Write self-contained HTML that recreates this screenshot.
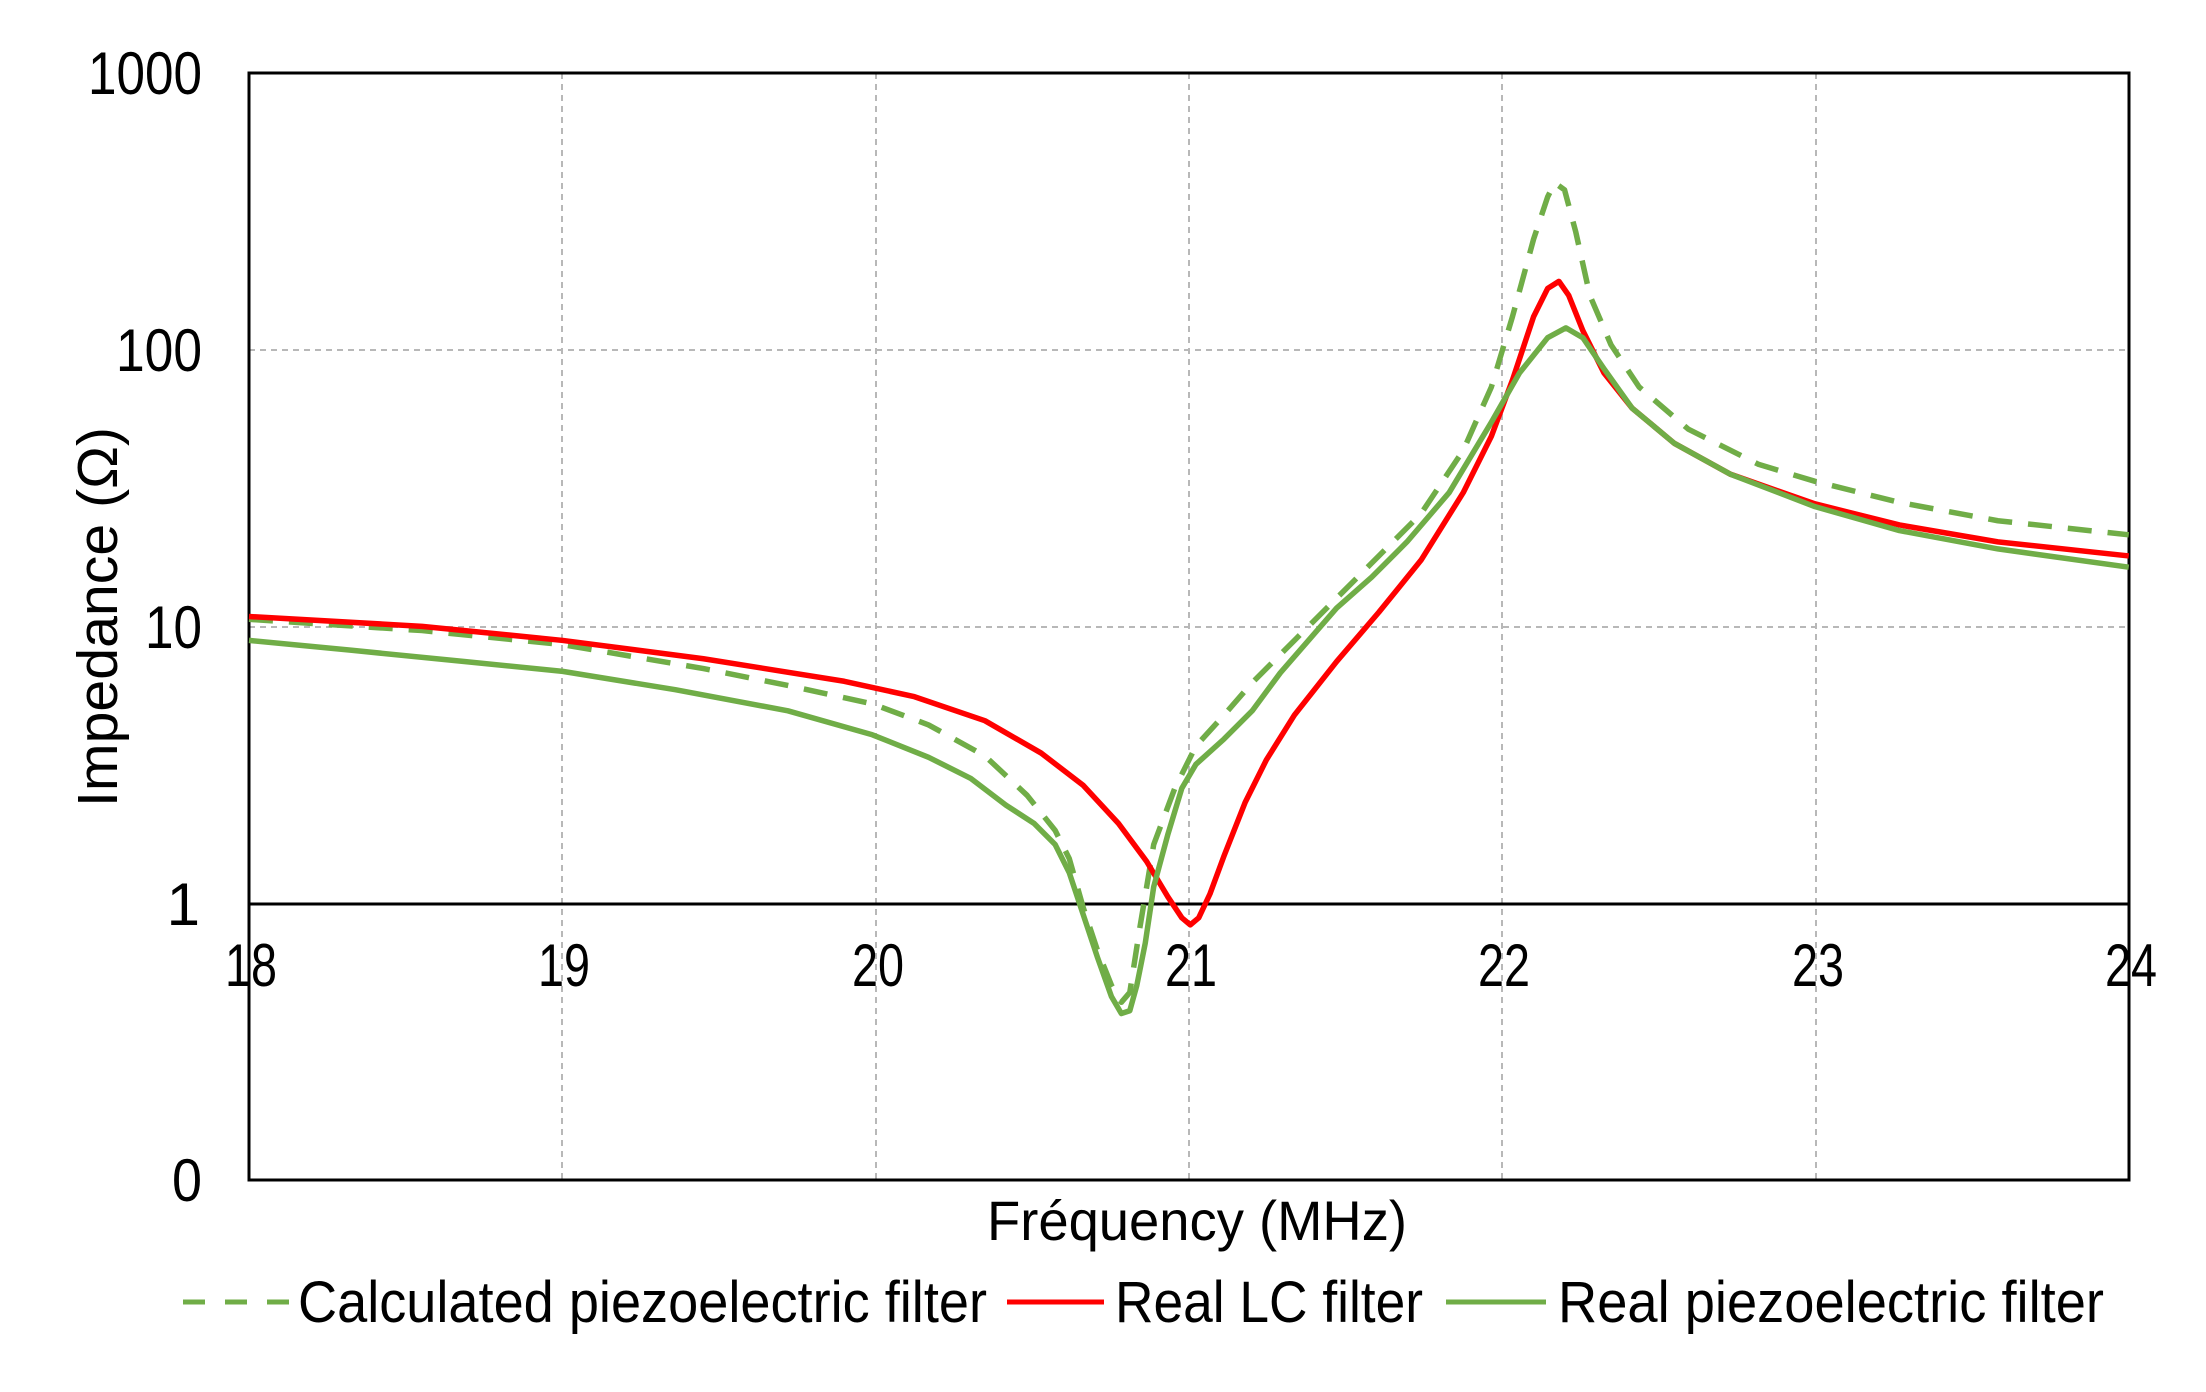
<!DOCTYPE html>
<html><head><meta charset="utf-8"><style>
html,body{margin:0;padding:0;background:#fff;}
svg{display:block;}
text{font-family:"Liberation Sans",Arial,sans-serif;fill:#000;}
</style></head><body>
<svg width="2206" height="1392" viewBox="0 0 2206 1392" xmlns="http://www.w3.org/2000/svg">
<rect width="2206" height="1392" fill="#fff"/>
<g stroke="#b8b8b8" stroke-width="2" stroke-dasharray="6,5">
<line x1="562" y1="73" x2="562" y2="1180"/>
<line x1="876" y1="73" x2="876" y2="1180"/>
<line x1="1189" y1="73" x2="1189" y2="1180"/>
<line x1="1502" y1="73" x2="1502" y2="1180"/>
<line x1="1816" y1="73" x2="1816" y2="1180"/>
<line x1="249" y1="350" x2="2129" y2="350"/>
<line x1="249" y1="627" x2="2129" y2="627"/>
</g>
<line x1="249" y1="904" x2="2129" y2="904" stroke="#000" stroke-width="3"/>
<rect x="249" y="73" width="1880" height="1107" fill="none" stroke="#000" stroke-width="3"/>

<g transform="translate(249,73) scale(1.407,1.408) translate(-177,-52)" fill="none" stroke-linejoin="round" stroke-linecap="butt">
<polyline vector-effect="non-scaling-stroke" stroke="#70ad47" stroke-width="5.5" stroke-dasharray="24,16" points="177,440 300,448 400,458 500,475 560,487 620,500 660,515 700,537 730,565 750,590 760,610 770,645 780,675 790,700 797,712 803,705 810,660 820,600 835,560 850,530 870,508 890,485 920,455 950,425 980,395 1010,365 1040,320 1060,275 1075,225 1090,170 1100,140 1105,130 1112,135 1120,165 1130,210 1145,245 1165,275 1200,305 1250,330 1290,342 1350,357 1420,370 1513,380"/>
<polyline vector-effect="non-scaling-stroke" stroke="#ff0000" stroke-width="5.5" points="177,438 300,445 400,455 500,468 600,484 650,495 700,512 740,535 770,558 795,585 815,612 830,637 840,652 846,657 852,652 860,635 870,608 885,570 900,540 920,508 950,470 980,435 1010,398 1040,350 1060,310 1075,270 1090,225 1100,205 1108,200 1115,210 1125,235 1140,265 1160,290 1190,315 1230,337 1290,358 1350,373 1420,385 1513,395"/>
<polyline vector-effect="non-scaling-stroke" stroke="#70ad47" stroke-width="5.5" points="177,455 250,462 330,470 400,477 480,490 560,505 620,522 660,538 690,553 715,572 735,585 750,600 760,620 770,650 780,680 790,708 797,720 803,718 808,700 814,670 820,630 830,593 840,560 850,543 870,525 890,505 910,478 930,455 950,432 975,410 1000,385 1030,350 1060,300 1080,265 1100,240 1113,233 1125,240 1140,262 1160,290 1190,315 1230,337 1290,360 1350,377 1420,390 1513,403"/>
</g>

<g font-size="60" text-anchor="end">
<text x="202" y="94" textLength="114" lengthAdjust="spacingAndGlyphs">1000</text>
<text x="202" y="371" textLength="86" lengthAdjust="spacingAndGlyphs">100</text>
<text x="202" y="648" textLength="57" lengthAdjust="spacingAndGlyphs">10</text>
<text x="200" y="925">1</text>
<text x="202" y="1201" textLength="30" lengthAdjust="spacingAndGlyphs">0</text>
</g>
<g font-size="60" text-anchor="middle">
<text x="251" y="986" textLength="52" lengthAdjust="spacingAndGlyphs">18</text>
<text x="564" y="986" textLength="52" lengthAdjust="spacingAndGlyphs">19</text>
<text x="878" y="986" textLength="52" lengthAdjust="spacingAndGlyphs">20</text>
<text x="1191" y="986" textLength="52" lengthAdjust="spacingAndGlyphs">21</text>
<text x="1504" y="986" textLength="52" lengthAdjust="spacingAndGlyphs">22</text>
<text x="1818" y="986" textLength="52" lengthAdjust="spacingAndGlyphs">23</text>
<text x="2131" y="986" textLength="52" lengthAdjust="spacingAndGlyphs">24</text>
</g>
<text x="987" y="1240" font-size="56" textLength="420" lengthAdjust="spacingAndGlyphs">Fréquency (MHz)</text>
<text transform="translate(117,807) rotate(-90)" x="0" y="0" font-size="57" textLength="380" lengthAdjust="spacingAndGlyphs">Impedance (Ω)</text>

<line x1="183" y1="1302" x2="289" y2="1302" stroke="#70ad47" stroke-width="5" stroke-dasharray="22,20"/>
<text x="298" y="1322" font-size="58" textLength="689" lengthAdjust="spacingAndGlyphs">Calculated piezoelectric filter</text>
<line x1="1007" y1="1302" x2="1104" y2="1302" stroke="#ff0000" stroke-width="5"/>
<text x="1115" y="1322" font-size="58" textLength="308" lengthAdjust="spacingAndGlyphs">Real LC filter</text>
<line x1="1446" y1="1302" x2="1546" y2="1302" stroke="#70ad47" stroke-width="5"/>
<text x="1558" y="1322" font-size="58" textLength="546" lengthAdjust="spacingAndGlyphs">Real piezoelectric filter</text>
</svg>
</body></html>
